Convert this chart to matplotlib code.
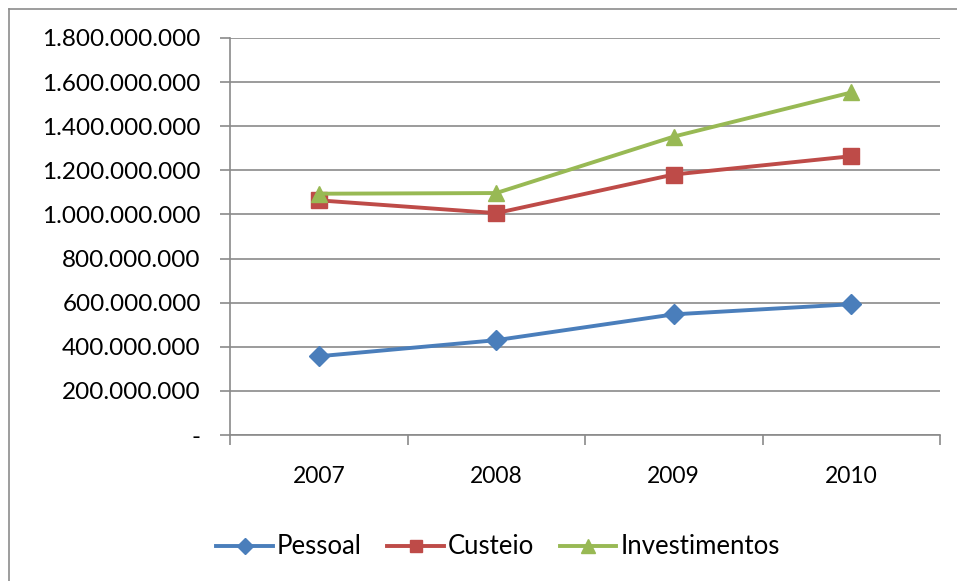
import matplotlib
matplotlib.use("Agg")
import matplotlib.pyplot as plt
from matplotlib.ticker import FuncFormatter, FixedLocator
from matplotlib.lines import Line2D

years = ["2007", "2008", "2009", "2010"]
pessoal = [357e6, 430e6, 547e6, 593e6]
custeio = [1064e6, 1006e6, 1181e6, 1264e6]
investimentos = [1094e6, 1097e6, 1353e6, 1553e6]
series_names = ["Pessoal", "Custeio", "Investimentos"]
y_ticks = [0, 200e6, 400e6, 600e6, 800e6, 1000e6, 1200e6, 1400e6, 1600e6, 1800e6]

plt.rcParams['font.family'] = ['Lato', 'DejaVu Sans']

W, H = 957, 581
fig = plt.figure(figsize=(W / 100, H / 100), dpi=100)
fig.patch.set_facecolor("white")

# outer chart border (left and top visible)
fig.add_artist(Line2D([9 / W, 9 / W], [0, 1 - 9 / H], color="#8c8c8c", lw=1.2))
fig.add_artist(Line2D([9 / W, 1], [1 - 9 / H, 1 - 9 / H], color="#8c8c8c", lw=1.2))

ax = fig.add_axes([230 / W, 1 - 435 / H, (940 - 230) / W, (435 - 38) / H])
x = list(range(len(years)))

styles = [
    (pessoal, "#4A7EBB", "D", 10),
    (custeio, "#BE4B48", "s", 11),
    (investimentos, "#98B954", "^", 12),
]
handles = []
for (vals, col, mk, ms), name in zip(styles, series_names):
    h, = ax.plot(x, vals, color=col, lw=2.8, marker=mk, markersize=ms,
                 markerfacecolor=col, markeredgecolor=col, label=name, zorder=3)
    handles.append(h)

ax.set_xlim(-0.5, len(years) - 0.5)
ax.set_ylim(0, 1800e6)
ax.yaxis.set_major_locator(FixedLocator(y_ticks))

def fmt(v, pos):
    if v == 0:
        return "-"
    return f"{int(round(v)):,}".replace(",", ".")

ax.yaxis.set_major_formatter(FuncFormatter(fmt))
ax.grid(axis="y", color="#8a8a8a", lw=1.2)
ax.set_axisbelow(True)

ax.set_xticks(x)
ax.set_xticklabels(years)
ax.set_xticks([i - 0.5 for i in range(len(years) + 1)], minor=True)
ax.tick_params(axis="x", which="major", length=0, pad=22, labelsize=16.5, labelcolor="#000000")
ax.tick_params(axis="x", which="minor", length=7, width=1.2, color="#8a8a8a", direction="out")
ax.tick_params(axis="y", length=7, width=1.2, color="#8a8a8a", pad=14, labelsize=17.5, labelcolor="#000000")

for s in ["top", "right"]:
    ax.spines[s].set_visible(False)
for s in ["left", "bottom"]:
    ax.spines[s].set_color("#8a8a8a")
    ax.spines[s].set_linewidth(1.2)

fig.legend(handles=handles, labels=series_names, loc="center",
           bbox_to_anchor=(498 / W, 1 - 547 / H), ncol=3, frameon=False,
           fontsize=18.5, handlelength=2.2, handletextpad=0.15, columnspacing=1.0,
           markerscale=0.85, labelcolor="#000000")

fig.savefig("out.png", dpi=100, facecolor="white")
